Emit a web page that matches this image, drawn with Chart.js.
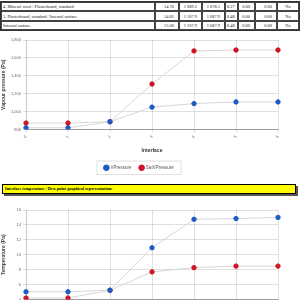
<!DOCTYPE html>
<html>
<head>
<meta charset="utf-8">
<script src="https://cdn.jsdelivr.net/npm/chart.js@4/dist/chart.umd.min.js"></script>
<style>
  html, body { margin: 0; padding: 0; background: #fff; width: 300px; height: 300px; overflow: hidden; }
  #page { position: relative; width: 300px; height: 300px; }
  table.layers { position: absolute; left: 0; top: 1px; width: 298px; border-collapse: separate; border-spacing: 0;
    border: 1px solid #333; font-family: "Liberation Serif", serif; font-size: 4.4px; table-layout: fixed; color: #222; }
  table.layers td { border: 0.7px solid #444; height: 7.4px; padding: 0 1px; white-space: nowrap; overflow: hidden; line-height: 7px; }
  table.layers td.num { text-align: right; padding-right: 4px; }
  table.layers td.ctr { text-align: center; }
  .box { position: absolute; width: 300px; }
  #bar { position: absolute; left: 2px; top: 184px; width: 290px; height: 8px; background: #ffff00; border: 1px solid #000;
    box-shadow: 2px 2px 0 #555; font-family: "Liberation Serif", serif; font-weight: bold; font-size: 4.2px; line-height: 8px; padding-left: 2px; }
</style>
</head>
<body>
<div id="page">
  <table class="layers" id="layers">
    <colgroup>
      <col style="width:154px"><col style="width:24px"><col style="width:23px"><col style="width:23px">
      <col style="width:13px"><col style="width:17px"><col style="width:22px"><col style="width:22px">
    </colgroup>
    <tbody id="rows"></tbody>
  </table>

  <div class="box" style="top:30px;height:154px"><canvas id="graph-vapour" width="300" height="154"></canvas></div>
  <div id="bar">Interface temperature / Dew point graphical representation:</div>
  <div class="box" style="top:200px;height:154px"><canvas id="graph-temperature" width="300" height="154"></canvas></div>
</div>

<script>
// DATEN
const tableLayers = ['4. Mineral wool / Plasterboard, standard', '5. Plasterboard, standard / Internal surface', 'Internal surface'];
const tableTemp = ['14.76', '14.85', '15.00'];
const tableVp = ['1 089.3', '1 107.9', '1 107.9'];
const tableSatVp = ['1 678.1', '1 687.9', '1 687.9'];
const tableDew = ['8.27', '8.48', '8.48'];
const tableCond1 = ['0.00', '0.00', '0.00'];
const tableCond2 = ['0.00', '0.00', '0.00'];
const tableRisk = ['No', 'No', 'No'];

const interfaces = ['0', '1', '2', '3', '4', '5', '6'];
const vPressure = [819, 819, 887, 1050, 1089.3, 1107.9, 1107.9];
const satVPressure = [872, 872, 887, 1308, 1678.1, 1687.9, 1687.9];
const temperature = [5.03, 5.03, 5.25, 10.93, 14.76, 14.85, 15.00];
const dewPoint = [4.2, 4.2, 5.24, 7.7, 8.27, 8.48, 8.48];

// TABELLE
const rows = document.getElementById('rows');
for (let i = 0; i < tableLayers.length; i++) {
    rows.innerHTML += '<tr><td>' + tableLayers[i] + '</td>' +
        '<td class="num">' + tableTemp[i] + '</td>' +
        '<td class="num">' + tableVp[i] + '</td>' +
        '<td class="num">' + tableSatVp[i] + '</td>' +
        '<td class="num">' + tableDew[i] + '</td>' +
        '<td class="num">' + tableCond1[i] + '</td>' +
        '<td class="num">' + tableCond2[i] + '</td>' +
        '<td class="ctr">' + tableRisk[i] + '</td></tr>';
}

// GRAPHEN
const blue = 'rgb(30, 90, 195)';
const red = 'rgb(205, 20, 40)';
Chart.defaults.font.family = '"Liberation Sans", Arial, sans-serif';

// Rahmen um die Legende
const legendBox = {
    id: 'legendBox',
    afterDraw(chart) {
        const boxes = chart.legend.legendHitBoxes;
        if (!boxes || !boxes.length) return;
        let l = Infinity, r = -Infinity, t = Infinity, b = -Infinity;
        boxes.forEach(h => {
            l = Math.min(l, h.left); r = Math.max(r, h.left + h.width);
            t = Math.min(t, h.top); b = Math.max(b, h.top + h.height);
        });
        const ctx = chart.ctx;
        ctx.save();
        ctx.strokeStyle = '#e0e0e0';
        ctx.lineWidth = 1;
        ctx.strokeRect(l - 7.5, t - 4.5, r - l + 15, b - t + 9);
        ctx.restore();
    }
};

function makeChart(id, first, second, labels, yTitle, yMin, yMax, yStep) {
    return new Chart(document.getElementById(id), {
        type: 'line',
        data: {
            labels: interfaces,
            datasets: [{
                label: labels[0],
                data: first,
                borderColor: 'rgba(215, 215, 215, 1)',
                borderWidth: 1,
                backgroundColor: blue,
                pointBackgroundColor: blue,
                pointBorderColor: blue,
                pointRadius: 2.2,
                tension: 0
            }, {
                label: labels[1],
                data: second,
                borderColor: 'rgba(215, 215, 215, 1)',
                borderWidth: 1,
                backgroundColor: red,
                pointBackgroundColor: red,
                pointBorderColor: red,
                pointRadius: 2.2,
                tension: 0
            }]
        },
        options: {
            responsive: false,
            animation: false,
            devicePixelRatio: 1,
            layout: { padding: { left: 0, right: 22, top: 10, bottom: 4 } },
            plugins: {
                legend: {
                    position: 'bottom',
                    labels: {
                        usePointStyle: true,
                        pointStyle: 'circle',
                        boxWidth: 4,
                        boxHeight: 4,
                        padding: 8,
                        color: '#555',
                        font: { size: 4.5 }
                    }
                },
                tooltip: { enabled: false }
            },
            scales: {
                y: {
                    min: yMin,
                    max: yMax,
                    ticks: { stepSize: yStep, font: { size: 4 }, color: '#666', padding: 2 },
                    grid: { color: 'rgba(0,0,0,0.12)', tickLength: 3 },
                    title: { display: true, text: yTitle, font: { size: 5, weight: 'bold' }, color: '#444', padding: 1 },
                    afterFit: s => { s.width = 26; }
                },
                x: {
                    ticks: { font: { size: 4 }, color: '#666', minRotation: 50, maxRotation: 50, padding: 2 },
                    grid: { color: 'rgba(0,0,0,0.12)', tickLength: 3 },
                    border: { color: 'rgba(0,0,0,0.3)' },
                    title: { display: true, text: 'Interface', font: { size: 5, weight: 'bold' }, color: '#333', padding: 4 },
                    afterFit: s => { s.height = 28; }
                }
            }
        },
        plugins: [legendBox]
    });
}

makeChart('graph-vapour', vPressure, satVPressure, ['VPressure', 'SatVPressure'], 'Vapour pressure (Pa)', 800, 1800, 200);
makeChart('graph-temperature', temperature, dewPoint, ['Temperature', 'DewPoint'], 'Temperature (Pa)', 4, 16, 2);
</script>
</body>
</html>
